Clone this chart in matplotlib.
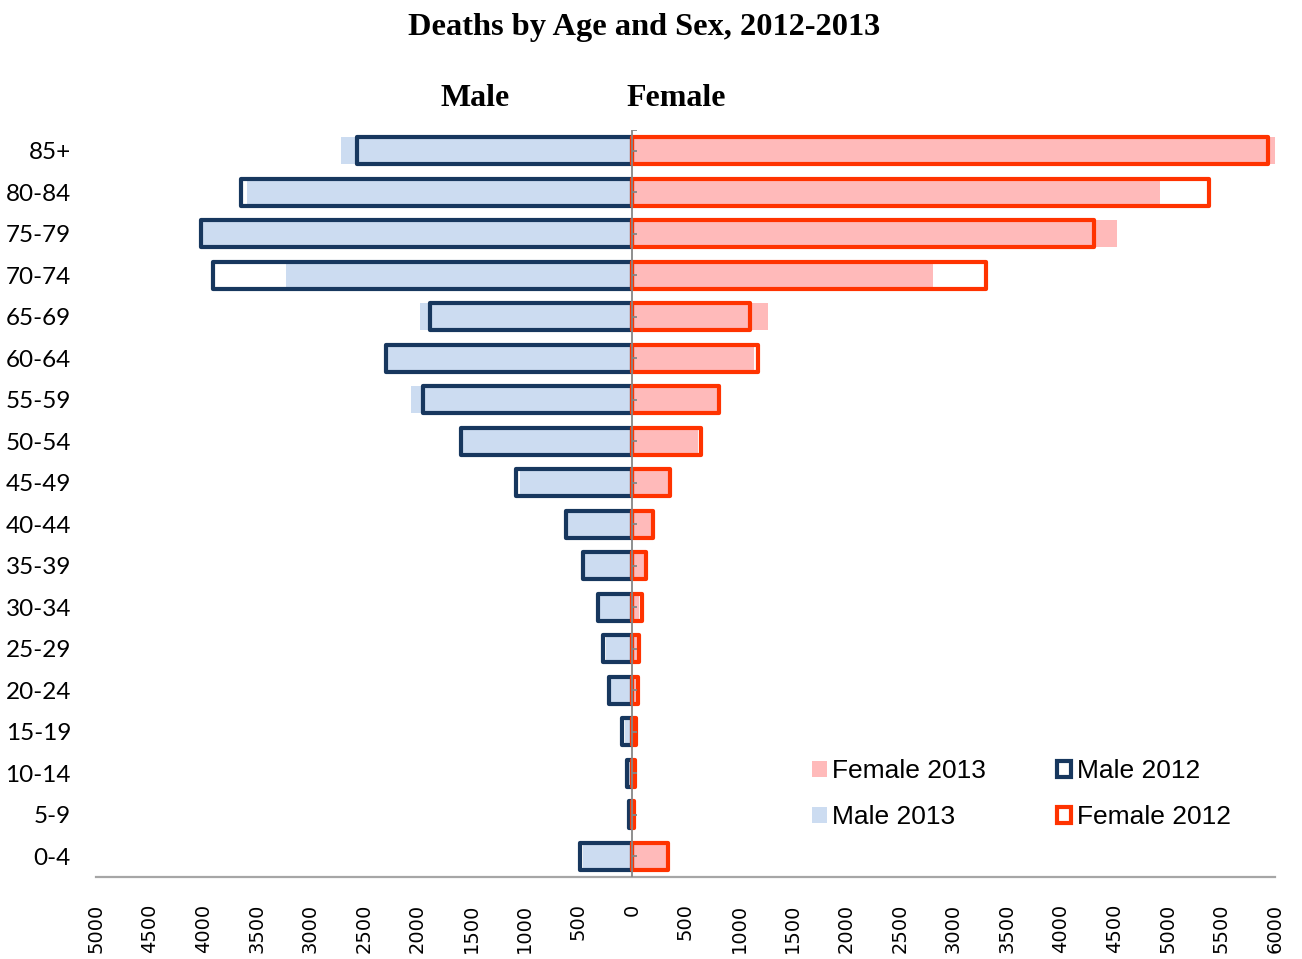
import numpy as np
import matplotlib.pyplot as plt
from matplotlib.ticker import FuncFormatter

ages = ['0-4', '5-9', '10-14', '15-19', '20-24', '25-29', '30-34', '35-39', '40-44',
        '45-49', '50-54', '55-59', '60-64', '65-69', '70-74', '75-79', '80-84', '85+']
male_2013 = [458, 25, 40, 65, 205, 243, 310, 450, 605, 1047, 1590, 2065, 2280, 1981, 3224, 4010, 3589, 2710]
male_2012 = [486, 28, 47, 93, 215, 271, 318, 458, 617, 1084, 1598, 1953, 2290, 1888, 3906, 4020, 3650, 2561]
female_2013 = [327, 18, 25, 30, 47, 56, 65, 112, 180, 336, 617, 794, 1140, 1271, 2813, 4530, 4930, 6000]
female_2012 = [336, 19, 28, 37, 56, 65, 93, 131, 196, 355, 645, 813, 1178, 1103, 3308, 4310, 5380, 5935]

y = np.arange(len(ages))
h = 0.66

fig = plt.figure(figsize=(13.02, 9.59), dpi=100)
ax = fig.add_axes([96/1302, 82/959, (1275-96)/1302, (877-130)/959])

# 2013 filled bars
b_f13 = ax.barh(y, female_2013, height=h, color='#FFBABA', label='Female 2013', zorder=2)
b_m13 = ax.barh(y, -np.array(male_2013), height=h, color='#CCDCF1', label='Male 2013', zorder=2)
# 2012 outlined bars
b_m12 = ax.barh(y, -np.array(male_2012), height=h, facecolor='none', edgecolor='#17375E',
                linewidth=3, joinstyle='round', label='Male 2012', zorder=3)
b_f12 = ax.barh(y, female_2012, height=h, facecolor='none', edgecolor='#FF3300',
                linewidth=3, joinstyle='round', label='Female 2012', zorder=3)

# zero axis with small ticks
ax.axvline(0, color='#868686', lw=1.3, zorder=5)
ax.hlines(y, 0, 45, color='#868686', lw=1.3, zorder=5)
ax.hlines([len(ages) - 0.5], 0, 45, color='#868686', lw=1.3, zorder=5)

ax.set_xlim(-5000, 6000)
ax.set_ylim(-0.5, len(ages) - 0.5)
ax.set_xticks(np.arange(-5000, 6001, 500))
ax.xaxis.set_major_formatter(FuncFormatter(lambda v, p: f'{abs(int(v))}'))
ax.tick_params(axis='x', length=0, pad=19, labelsize=14, labelrotation=90)
for t in ax.get_xticklabels():
    t.set_fontfamily('DejaVu Sans')

ax.set_yticks(y)
ax.set_yticklabels(ages, fontfamily='Lato', fontsize=17.5)
ax.tick_params(axis='y', length=0, pad=18)

for s in ['top', 'right', 'left']:
    ax.spines[s].set_visible(False)
ax.spines['bottom'].set_color('#A6A6A6')
ax.spines['bottom'].set_linewidth(1.6)

fig.text(644/1302, 1 - 28/959, 'Deaths by Age and Sex, 2012-2013', ha='center', va='center',
         fontsize=23.3, fontweight='bold', fontfamily='Liberation Serif')
fig.text(475/1302, 1 - 99/959, 'Male', ha='center', va='center',
         fontsize=23, fontweight='bold', fontfamily='Liberation Serif')
fig.text(676/1302, 1 - 99/959, 'Female', ha='center', va='center',
         fontsize=23, fontweight='bold', fontfamily='Liberation Serif')

leg = ax.legend(handles=[b_f13, b_m13, b_m12, b_f12], ncol=2, frameon=False,
                loc='upper left', bbox_to_anchor=(812/1302, 1 - 759/959),
                bbox_transform=fig.transFigure, prop={'family': 'Liberation Sans', 'size': 19},
                handlelength=0.55, handleheight=0.55, handletextpad=0.2,
                columnspacing=2.7, labelspacing=0.85, borderpad=0, borderaxespad=0)

fig.savefig('out.png', dpi=100)
